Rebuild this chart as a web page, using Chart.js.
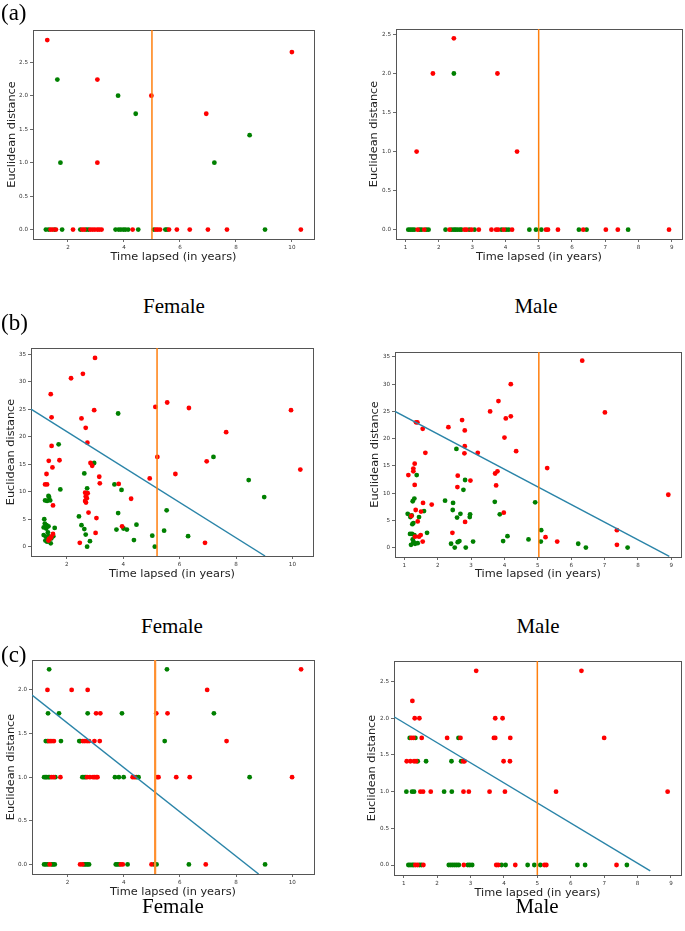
<!DOCTYPE html>
<html><head><meta charset="utf-8">
<script src="https://cdn.jsdelivr.net/npm/chart.js@4.4.1/dist/chart.umd.min.js"></script>
<style>
body{margin:0;background:#fff;width:685px;height:931px;position:relative;overflow:hidden}
canvas{position:absolute}
.cap{position:absolute;font-family:'Liberation Serif',serif;font-size:21px;color:#000;transform:translate(-50%,-50%);white-space:nowrap}
.tag{position:absolute;font-family:'Liberation Serif',serif;font-size:23px;color:#000;white-space:nowrap}
</style></head><body>
<canvas id="aF" width="340" height="250" style="left:0;top:20px"></canvas>
<canvas id="aM" width="340" height="250" style="left:345px;top:20px"></canvas>
<canvas id="bF" width="340" height="255" style="left:0;top:335px"></canvas>
<canvas id="bM" width="340" height="255" style="left:345px;top:335px"></canvas>
<canvas id="cF" width="340" height="255" style="left:0;top:645px"></canvas>
<canvas id="cM" width="340" height="255" style="left:345px;top:645px"></canvas>
<div class="tag" style="left:1px;top:0px">(a)</div>
<div class="tag" style="left:1px;top:310px">(b)</div>
<div class="tag" style="left:1px;top:642px">(c)</div>
<div class="cap" style="left:174px;top:306px">Female</div>
<div class="cap" style="left:536px;top:306px">Male</div>
<div class="cap" style="left:172px;top:626px">Female</div>
<div class="cap" style="left:538px;top:626px">Male</div>
<div class="cap" style="left:173px;top:906px">Female</div>
<div class="cap" style="left:537px;top:906px">Male</div>
<script>
// ---------- tick labels ----------
const femaleXTicks = [2, 4, 6, 8, 10];
const maleXTicks = [1, 2, 3, 4, 5, 6, 7, 8, 9];
const aYTicks = [0, 0.5, 1, 1.5, 2, 2.5];
const bYTicks = [0, 5, 10, 15, 20, 25, 30, 35];
const cFemaleYTicks = [0, 0.5, 1, 1.5, 2];
const cMaleYTicks = [0, 0.5, 1, 1.5, 2, 2.5];

// ---------- (a) ----------
const aFemaleRed = [[1.26,2.83],[3.05,2.24],[3.05,1.0],[4.98,2.0],[6.94,1.73],[10.0,2.65]];
const aFemaleRedZero = [1.38,1.45,1.57,2.18,2.51,2.58,2.8,2.88,2.96,3.05,3.12,3.2,4.31,5.14,5.21,5.29,5.61,5.89,6.35,7.0,7.68,10.32];
const aFemaleGreen = [[1.62,2.24],[1.73,1.0],[3.79,2.0],[4.42,1.73],[7.23,1.0],[8.49,1.41]];
const aFemaleGreenZero = [1.21,1.31,1.52,1.79,2.44,2.65,2.73,3.7,3.81,3.89,3.98,4.05,4.15,4.51,5.07,5.48,5.54,9.04];
const aFemaleCut = 5.0;

const aMaleRed = [[1.33,1.0],[1.82,2.0],[2.45,2.45],[3.76,2.0],[4.35,1.0]];
const aMaleRedZero = [1.36,1.56,2.32,2.77,2.83,2.98,3.2,3.58,3.72,3.78,3.95,4.2,5.22,5.28,5.58,6.34,7.02,7.38,8.92];
const aMaleGreen = [[2.45,2.0]];
const aMaleGreenZero = [1.08,1.14,1.2,1.26,1.42,1.48,1.62,1.69,2.2,2.38,2.45,2.5,2.56,2.63,2.68,2.91,3.07,3.88,4.02,4.1,4.72,4.92,5.08,6.21,6.44,7.69];
const aMaleCut = 5.0;

// ---------- (b) ----------
const bFemaleRed = [[3.0,34.3],[2.15,30.6],[2.57,31.4],[1.43,27.7],[1.46,23.5],[2.97,24.8],[2.52,23.3],[2.67,21.6],[2.73,18.9],[1.46,18.3],[1.74,15.7],[1.36,15.6],[1.49,14.4],[1.28,13.2],[1.23,11.3],[1.3,11.3],[2.84,15.2],[2.9,14.7],[3.15,12.7],[3.17,11.5],[3.84,11.4],[4.28,8.7],[2.65,9.8],[2.7,9.6],[2.74,9.7],[2.67,9.1],[2.71,8.8],[2.65,8.3],[2.68,8.0],[1.51,7.5],[2.77,6.2],[3.05,5.2],[3.02,2.5],[3.96,3.7],[2.46,0.7],[1.51,2.3],[1.41,1.5],[1.37,1.4],[1.45,1.8],[1.35,1.1],[4.94,12.4],[5.21,16.3],[5.14,25.4],[5.56,26.2],[6.33,25.2],[9.95,24.8],[7.65,20.8],[6.96,15.5],[5.85,13.2],[10.28,14.0],[6.9,0.7]];
const bFemaleGreen = [[3.82,24.2],[1.71,18.6],[2.97,15.2],[2.62,13.3],[2.72,10.6],[1.77,10.4],[3.69,11.3],[3.94,10.3],[1.35,9.2],[1.37,9.0],[1.23,8.4],[1.3,8.3],[1.41,8.4],[3.82,6.1],[5.54,6.6],[2.43,5.5],[1.2,5.0],[1.22,4.2],[1.28,3.9],[1.35,3.7],[1.18,3.5],[1.27,3.3],[1.57,3.4],[2.52,3.9],[2.62,3.2],[2.67,2.2],[3.76,3.1],[4.01,3.3],[4.13,3.1],[4.47,4.0],[2.82,1.0],[2.72,0.0],[4.38,1.2],[5.03,2.0],[5.12,0.0],[5.45,2.9],[7.2,16.3],[8.45,12.1],[9.0,9.0],[6.3,1.9],[1.18,2.1],[1.26,1.8],[1.35,1.9],[1.24,1.1],[1.3,0.9],[1.45,1.5],[1.43,0.6],[1.52,1.9],[1.33,2.6]];
const bFemaleFit = [[0.73,25.0],[9.03,-1.7]];
const bFemaleCut = 5.2;

const bMaleRed = [[4.19,30.0],[3.82,26.9],[3.57,25.0],[4.04,23.7],[4.19,24.1],[4.0,20.2],[2.73,23.4],[2.32,22.1],[2.81,21.5],[1.35,23.0],[1.39,23.0],[1.55,21.8],[1.63,17.4],[2.81,18.6],[2.8,17.3],[3.2,17.4],[1.31,15.4],[1.27,14.5],[1.27,14.0],[1.12,13.3],[2.6,13.2],[2.59,11.1],[2.98,12.3],[1.31,11.5],[3.72,13.6],[3.79,14.0],[3.75,11.4],[3.98,6.4],[1.21,5.8],[1.34,6.9],[1.56,8.2],[1.5,6.6],[1.82,7.9],[1.4,4.8],[2.82,4.7],[1.49,2.3],[1.44,2.0],[2.44,2.7],[1.55,1.1],[1.32,2.0],[6.33,34.3],[7.01,24.8],[4.35,17.7],[5.28,14.6],[8.91,9.7],[5.23,1.9],[5.58,1.1],[7.37,3.2],[7.37,0.5]];
const bMaleGreen = [[2.56,18.1],[1.37,13.3],[2.82,12.4],[2.77,10.6],[1.3,9.0],[1.25,8.5],[1.1,6.2],[1.18,5.6],[1.22,5.9],[1.24,4.3],[1.27,4.5],[1.44,5.6],[1.59,6.7],[1.68,2.7],[1.17,2.5],[1.23,2.5],[1.3,2.3],[1.2,0.5],[1.28,1.0],[1.32,0.7],[1.4,0.8],[1.25,1.5],[2.22,8.6],[2.46,8.2],[2.45,6.9],[2.68,6.2],[2.58,5.5],[2.97,6.1],[2.96,5.6],[2.4,0.7],[2.51,0.0],[2.6,1.0],[2.65,1.2],[2.84,0.0],[3.06,1.1],[3.71,8.4],[3.86,6.1],[3.96,1.2],[4.09,2.1],[4.92,8.3],[5.1,3.2],[5.09,1.1],[4.72,1.5],[6.21,0.7],[6.44,0.0],[7.69,0.0],[1.27,0.9]];
const bMaleFit = [[0.72,25.0],[8.94,-1.6]];
const bMaleCut = 5.03;

// ---------- (c) ----------
const cFemaleRed = [[1.29,2.0],[2.15,2.0],[2.72,2.0],[6.97,2.0],[10.31,2.236],[3.02,1.732],[3.17,1.732],[5.16,1.732],[5.56,1.732],
 [1.34,1.414],[1.39,1.414],[1.45,1.414],[1.52,1.414],[2.55,1.414],[2.62,1.414],[2.7,1.414],[2.77,1.414],[2.96,1.414],[3.15,1.414],[7.66,1.414],
 [1.44,1],[1.51,1],[1.75,1],[2.7,1],[2.8,1],[2.91,1],[2.97,1],[3.03,1],[3.07,1],[4.32,1],[4.39,1],[5.19,1],[5.24,1],[5.87,1],[6.35,1],[9.99,1],
 [1.37,0],[2.45,0],[2.53,0],[3.9,0],[3.97,0],[4.99,0],[6.92,0]];
const cFemaleGreen = [[1.35,2.236],[5.54,2.236],[1.31,1.732],[1.7,1.732],[2.72,1.732],[3.94,1.732],[7.21,1.732],
 [1.23,1.414],[1.29,1.414],[1.77,1.414],[2.42,1.414],[2.46,1.414],[5.46,1.414],
 [1.17,1],[1.22,1],[1.26,1],[1.32,1],[1.37,1],[1.57,1],[2.53,1],[2.59,1],[2.65,1],[3.69,1],[3.83,1],[4.0,1],[4.46,1],[4.53,1],[8.48,1],
 [1.17,0],[1.23,0],[1.3,0],[1.44,0],[1.49,0],[1.55,0],[2.59,0],[2.65,0],[2.71,0],[2.77,0],[3.72,0],[3.77,0],[3.84,0],[4.14,0],[5.08,0],[5.17,0],[6.32,0],[9.03,0]];
const cFemaleFit = [[0.74,1.94],[8.8,-0.11]];
const cFemaleCut = 5.12;

const cMaleRed = [[3.17,2.646],[6.32,2.646],[1.26,2.236],[1.33,2.0],[1.47,2.0],[3.74,2.0],[3.96,2.0],
 [1.23,1.732],[1.29,1.732],[1.54,1.732],[2.3,1.732],[2.7,1.732],[3.7,1.732],[3.74,1.732],[4.19,1.732],[7.0,1.732],
 [1.09,1.414],[1.2,1.414],[1.31,1.414],[1.37,1.414],[2.78,1.414],[2.82,1.414],[3.99,1.414],[4.18,1.414],
 [1.5,1],[1.58,1],[1.81,1],[2.79,1],[2.95,1],[3.57,1],[4.03,1],[5.56,1],[8.9,1],
 [1.35,0],[1.41,0],[1.59,0],[2.8,0],[3.77,0],[3.83,0],[4.34,0],[5.21,0],[5.27,0],[7.37,0]];
const cMaleGreen = [[1.18,1.732],[1.35,1.732],[2.64,1.732],
 [1.42,1.414],[1.67,1.414],[2.43,1.414],[2.72,1.414],
 [1.08,1],[1.25,1],[1.31,1],[2.21,1],[2.44,1],
 [1.14,0],[1.19,0],[1.25,0],[1.3,0],[1.47,0],[1.53,0],[2.35,0],[2.41,0],[2.47,0],[2.53,0],[2.59,0],[2.65,0],[2.92,0],[2.98,0],[3.05,0],[3.93,0],[4.05,0],[4.71,0],[4.91,0],[5.09,0],[6.2,0],[6.43,0],[7.68,0]];
const cMaleFit = [[0.71,2.02],[8.38,-0.08]];
const cMaleCut = 5.0;

// ---------- helpers ----------
const pts = a => a.map(p => ({x: p[0], y: p[1]}));
const zeroPts = a => a.map(x => ({x: x, y: 0}));
const fmt1 = v => Number(v).toFixed(1);
const fmtInt = v => String(v);

function panel(id, o) {
  const ds = [
    {data: o.green, backgroundColor: '#008000', borderColor: '#008000', pointRadius: 2.4, pointBorderWidth: 0, pointHoverRadius: 2.4, order: 3},
    {data: o.red, backgroundColor: '#ff0000', borderColor: '#ff0000', pointRadius: 2.4, pointBorderWidth: 0, pointHoverRadius: 2.4, order: 2}
  ];
  if (o.fit) ds.push({type: 'line', data: pts(o.fit), borderColor: '#2a84a8', borderWidth: 1.4, pointRadius: 0, fill: false, order: 1});
  ds.push({type: 'line', data: [{x: o.cut, y: o.y[0]}, {x: o.cut, y: o.y[1]}], borderColor: o.cutColor || '#ff7f0e', borderWidth: o.cutWidth || 1.5, pointRadius: 0, fill: false, order: 0});
  const tickFont = {family: 'DejaVu Sans', size: 5.6};
  const titleFont = {family: 'DejaVu Sans', size: 11.3};
  new Chart(document.getElementById(id), {
    type: 'scatter',
    data: {datasets: ds},
    options: {
      responsive: false, animation: false, devicePixelRatio: 1,
      layout: {padding: {top: o.padTop, right: o.padRight, left: 0, bottom: 0}},
      plugins: {legend: {display: false}, tooltip: {enabled: false}},
      events: [],
      scales: {
        x: {type: 'linear', position: 'bottom', min: o.x[0], max: o.x[1],
          afterBuildTicks: s => { s.ticks = o.xTicks.map(v => ({value: v})); },
          afterFit: s => { s.height = o.xH; },
          ticks: {font: tickFont, color: '#333', padding: 2, maxRotation: 0, autoSkip: false, callback: v => String(v)},
          grid: {drawOnChartArea: false, drawTicks: true, tickLength: 3, color: '#444', tickWidth: 0.8},
          border: {display: true, color: '#555', width: 1},
          title: {display: true, text: 'Time lapsed (in years)', font: titleFont, color: '#222', padding: {top: 0, bottom: o.xTitlePad}}},
        y: {type: 'linear', position: 'left', min: o.y[0], max: o.y[1],
          afterBuildTicks: s => { s.ticks = o.yTicks.map(v => ({value: v})); },
          afterFit: s => { s.width = o.yW; },
          ticks: {font: tickFont, color: '#333', padding: 2, autoSkip: false, callback: o.yFmt},
          grid: {drawOnChartArea: false, drawTicks: true, tickLength: 3, color: '#444', tickWidth: 0.8},
          border: {display: true, color: '#555', width: 1},
          title: {display: true, text: 'Euclidean distance', font: titleFont, color: '#222', padding: {top: o.yTitlePad, bottom: 0}}},
        x2: {type: 'linear', position: 'top', min: o.x[0], max: o.x[1],
          afterFit: s => { s.height = 0; },
          ticks: {display: false}, grid: {display: false},
          border: {display: true, color: '#555', width: 1}},
        y2: {type: 'linear', position: 'right', min: o.y[0], max: o.y[1],
          afterFit: s => { s.width = 0; },
          ticks: {display: false}, grid: {display: false},
          border: {display: true, color: '#555', width: 1}}
      }
    }
  });
}

panel('aF', {red: pts(aFemaleRed).concat(zeroPts(aFemaleRedZero)), green: pts(aFemaleGreen).concat(zeroPts(aFemaleGreenZero)),
  cut: aFemaleCut, x: [0.75, 10.79], y: [-0.14, 2.98], xTicks: femaleXTicks, yTicks: aYTicks, yFmt: fmt1,
  padTop: 10, padRight: 26, yW: 33, xH: 31, yTitlePad: 4.8, xTitlePad: 5.7});
panel('aM', {red: pts(aMaleRed).concat(zeroPts(aMaleRedZero)), green: pts(aMaleGreen).concat(zeroPts(aMaleGreenZero)),
  cut: aMaleCut, x: [0.71, 9.31], y: [-0.12, 2.57], xTicks: maleXTicks, yTicks: aYTicks, yFmt: fmt1,
  padTop: 9, padRight: 3, yW: 51, xH: 31, yTitlePad: 22.1, xTitlePad: 5.7});
panel('bF', {red: pts(bFemaleRed), green: pts(bFemaleGreen), fit: bFemaleFit,
  cut: bFemaleCut, x: [0.73, 10.73], y: [-1.7, 36.1], xTicks: femaleXTicks, yTicks: bYTicks, yFmt: fmtInt,
  padTop: 13, padRight: 27, yW: 31, xH: 34, yTitlePad: 4.5, xTitlePad: 9.1});
panel('bM', {red: pts(bMaleRed), green: pts(bMaleGreen), fit: bMaleFit,
  cut: bMaleCut, x: [0.72, 9.29], y: [-1.73, 35.9], xTicks: maleXTicks, yTicks: bYTicks, yFmt: fmtInt,
  padTop: 17, padRight: 4, yW: 50, xH: 33, yTitlePad: 23.5, xTitlePad: 9.1});
panel('cF', {red: pts(cFemaleRed), green: pts(cFemaleGreen), fit: cFemaleFit,
  cut: cFemaleCut, cutWidth: 2.2, cutColor: '#ff8f2e', x: [0.74, 10.77], y: [-0.11, 2.343], xTicks: femaleXTicks, yTicks: cFemaleYTicks, yFmt: fmt1,
  padTop: 15, padRight: 26, yW: 32, xH: 26, yTitlePad: 3.8, xTitlePad: 1.1});
panel('cM', {red: pts(cMaleRed), green: pts(cMaleGreen), fit: cMaleFit,
  cut: cMaleCut, x: [0.71, 9.30], y: [-0.136, 2.78], xTicks: maleXTicks, yTicks: cMaleYTicks, yFmt: fmt1,
  padTop: 16, padRight: 4, yW: 49, xH: 25, yTitlePad: 19.8, xTitlePad: 0.4});
</script>
</body></html>
